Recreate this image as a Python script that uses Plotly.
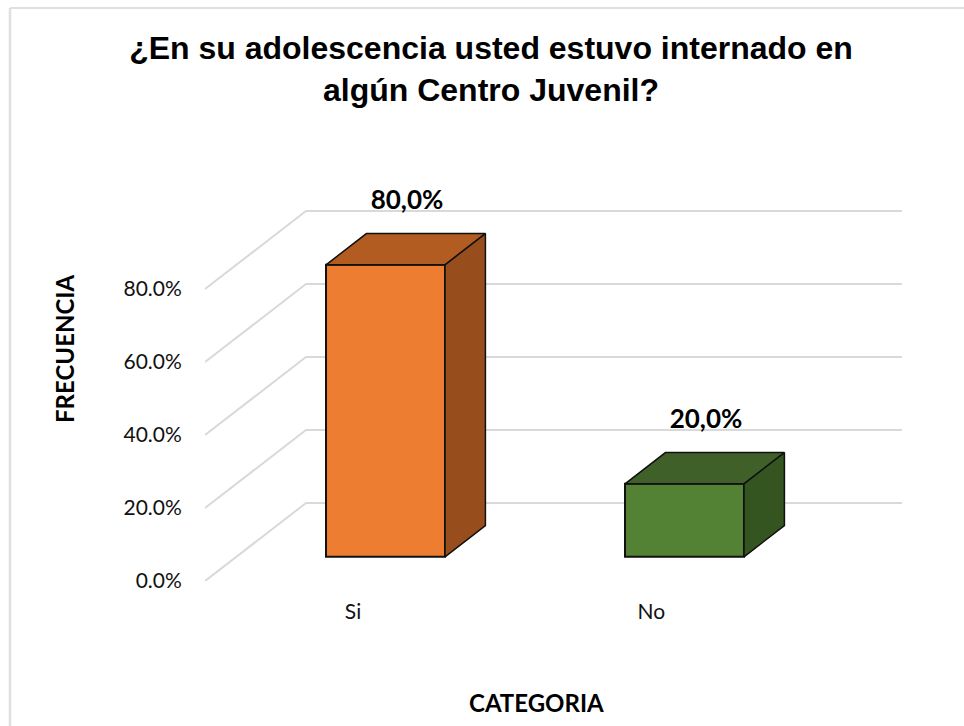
import plotly.graph_objects as go

categories = ["Si", "No"]
values = [80, 20]
value_labels = ["80,0%", "20,0%"]
tick_values = [0, 20, 40, 60, 80]
tick_labels = ["0.0%", "20.0%", "40.0%", "60.0%", "80.0%"]
title_text = "<b>¿En su adolescencia usted estuvo internado en<br>algún Centro Juvenil?</b>"

front_colors = ["#ED7D31", "#548235"]
top_colors = ["#B25C22", "#3F6129"]
side_colors = ["#974E1C", "#345420"]
GRID = "#D9D9D9"
W, H = 964, 726
LEFT, RIGHT, TOP, BOTTOM = 205, 902, 198, 581
Y_MAX = (BOTTOM - TOP) / 3.65
X_MIN = -0.5
X_MAX = X_MIN + (RIGHT - LEFT) / 299

# oblique projection: a unit of depth moves a point right and up
DX = 101 / 299
DY = 78 / 3.65
BAR_W = 0.398
D0, D1 = 0.31, 0.71


def proj(x, v, d):
    return x + d * DX, v + d * DY


fig = go.Figure()

# walls and gridlines on the base axes
for t in tick_values:
    pts = [proj(X_MIN, t, 0), proj(X_MIN, t, 1), proj(X_MAX - DX, t, 1)]
    fig.add_trace(go.Scatter(x=[p[0] for p in pts], y=[p[1] for p in pts], mode="lines",
                             line=dict(color=GRID, width=2), hoverinfo="skip", showlegend=False))

# boxes on an overlaying pair of axes, so that they hide the gridlines
for i, (cat, v) in enumerate(zip(categories, values)):
    l, r = i - 0.001 - BAR_W / 2, i - 0.001 + BAR_W / 2
    cx, base = proj(i - 0.001, 0, D0)
    fig.add_trace(go.Bar(x=[cx], y=[v], base=[base], width=[BAR_W], name=cat, xaxis="x2", yaxis="y2",
                         marker=dict(color=front_colors[i], line=dict(color="#111111", width=2)),
                         showlegend=False))
    top = [proj(l, v, D0), proj(l, v, D1), proj(r, v, D1), proj(r, v, D0), proj(l, v, D0)]
    side = [proj(r, 0, D0), proj(r, 0, D1), proj(r, v, D1), proj(r, v, D0), proj(r, 0, D0)]
    for pts, col in ((top, top_colors[i]), (side, side_colors[i])):
        fig.add_trace(go.Scatter(x=[p[0] for p in pts], y=[p[1] for p in pts], mode="lines", xaxis="x2", yaxis="y2",
                                 fill="toself", fillcolor=col, line=dict(color="#111111", width=1.5),
                                 hoverinfo="skip", showlegend=False))
    lx = proj(i, v, 0.5)[0] + 2 / 299
    ly = proj(i, v, D1)[1] + 31 / 3.65
    fig.add_trace(go.Scatter(x=[lx], y=[ly], mode="text", xaxis="x2", yaxis="y2",
                             text=[value_labels[i]], textposition="middle center", cliponaxis=False,
                             textfont=dict(family="Lato", size=26, color="#000000"),
                             texttemplate="<b>%{text}</b>", hoverinfo="skip", showlegend=False))

frame_x = -195 / (RIGHT - LEFT)
frame_y = (BOTTOM - 8) / (BOTTOM - TOP)

fig.update_layout(
    width=W, height=H, plot_bgcolor="white", paper_bgcolor="white", barmode="overlay",
    margin=dict(l=LEFT, r=W - RIGHT, t=TOP, b=H - BOTTOM),
    title=dict(text=title_text, x=491 / W, xanchor="center", y=1 - 59 / H, yanchor="middle",
               font=dict(family="Liberation Sans", size=32, color="#000000")),
    xaxis=dict(range=[X_MIN, X_MAX], tickvals=[-0.005, 0.993], ticktext=categories, showgrid=False, zeroline=False,
               showline=False, ticks="outside", ticklen=12, tickcolor="rgba(0,0,0,0)",
               tickfont=dict(family="Lato", size=21, color="#111111")),
    yaxis=dict(range=[0, Y_MAX], tickvals=tick_values, ticktext=tick_labels, showgrid=False, zeroline=False,
               showline=False, ticks="outside", ticklen=18, tickcolor="rgba(0,0,0,0)",
               tickfont=dict(family="Lato", size=21, color="#111111")),
    xaxis2=dict(range=[X_MIN, X_MAX], overlaying="x", visible=False),
    yaxis2=dict(range=[0, Y_MAX], overlaying="y", visible=False),
    shapes=[
        dict(type="line", xref="paper", yref="paper", x0=frame_x, x1=(W - LEFT) / (RIGHT - LEFT),
             y0=frame_y, y1=frame_y, line=dict(color="#E0E0E0", width=2)),
        dict(type="line", xref="paper", yref="paper", x0=frame_x, x1=frame_x,
             y0=-(H - BOTTOM) / (BOTTOM - TOP), y1=frame_y, line=dict(color="#E0E0E0", width=2.5)),
    ],
    annotations=[
        dict(text="<b>CATEGORIA</b>", xref="paper", yref="paper", x=(536 - LEFT) / (RIGHT - LEFT),
             y=-(702 - BOTTOM) / (BOTTOM - TOP), showarrow=False, xanchor="center", yanchor="middle",
             font=dict(family="Lato", size=24, color="#000000")),
        dict(text="<b>FRECUENCIA</b>", xref="paper", yref="paper", x=(64 - LEFT) / (RIGHT - LEFT),
             y=(BOTTOM - 349) / (BOTTOM - TOP), showarrow=False, xanchor="center", yanchor="middle", textangle=-90,
             font=dict(family="Lato", size=24, color="#000000")),
    ],
)

fig.write_html("out.html", post_script="document.body.style.margin='0';document.documentElement.style.overflow='hidden';",
               config={"displayModeBar": False})
